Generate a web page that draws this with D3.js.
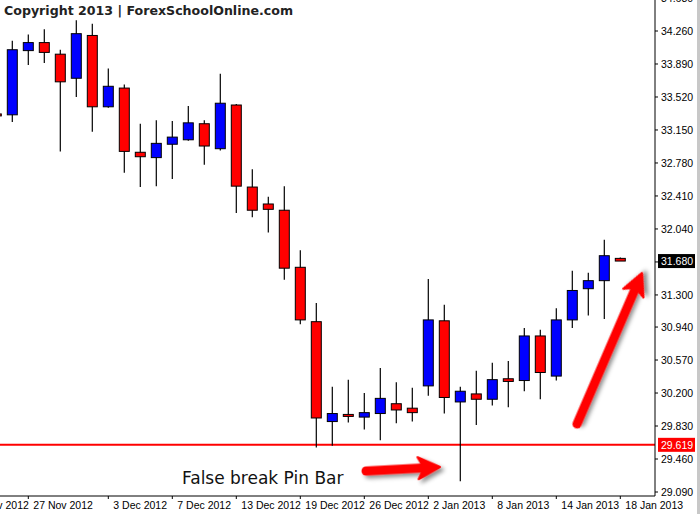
<!DOCTYPE html>
<html><head><meta charset="utf-8">
<script src="https://cdn.jsdelivr.net/npm/d3@7"></script>
<style>body{margin:0;background:#fff}svg{display:block}</style>
</head><body>
<script>
// candle index -1 .. 38, OHLC
const idx   = d3.range(-1, 39);
const opens = [33.33,33.32,34.04,34.13,34.00,33.73,34.21,33.41,33.62,32.90,32.84,32.99,33.04,33.22,32.94,33.43,32.51,32.32,32.25,31.61,31.00,29.88,29.96,29.93,29.97,30.08,30.03,30.28,31.01,30.10,30.19,30.13,30.36,30.34,30.84,30.39,31.02,31.37,31.46,31.71];
const highs = [33.34,34.15,34.22,34.28,34.05,34.38,34.34,33.84,33.66,33.22,33.26,33.25,33.42,33.26,33.78,33.44,32.71,32.40,32.52,31.80,31.21,30.27,30.35,30.20,30.48,30.32,30.26,31.48,31.19,30.27,30.45,30.54,30.56,30.93,30.91,31.15,31.57,31.55,31.92,31.72];
const lows  = [33.30,33.24,33.88,33.90,32.91,33.52,33.13,33.40,32.67,32.51,32.52,32.60,33.03,32.76,32.92,32.22,32.17,32.00,31.47,30.97,29.59,29.61,29.87,29.79,29.67,29.86,29.88,30.17,29.97,29.21,29.84,30.06,30.04,30.22,30.13,30.34,30.93,31.07,31.03,31.68];
const closes= [33.31,34.05,34.13,34.02,33.69,34.23,33.41,33.64,32.91,32.85,33.00,33.07,33.23,32.97,33.45,32.52,32.25,32.26,31.60,31.02,29.92,29.97,29.94,29.98,30.14,30.01,29.98,31.02,30.15,30.22,30.13,30.35,30.33,30.84,30.43,31.02,31.35,31.46,31.74,31.68];
const priceTicks = [34.63,34.26,33.89,33.52,33.15,32.78,32.41,32.04,31.67,31.30,30.94,30.57,30.20,29.83,29.46,29.09];
const dateTicks = [-3,1,6,10,14,18,22,26,30,34,38];
const dateLabels = ["21 Nov 2012","27 Nov 2012","3 Dec 2012","7 Dec 2012","13 Dec 2012","19 Dec 2012","26 Dec 2012","2 Jan 2013","8 Jan 2013","14 Jan 2013","18 Jan 2013"];
const lastPrice = 31.680, supportLevel = 29.619;

const W = 700, H = 514, axisX = 655, plotBottom = 496;
const x = d3.scaleLinear().domain([0, 38]).range([12.3, 620.3]);
const y = d3.scaleLinear().domain([29.09, 34.26]).range([492, 31]);

const svg = d3.select("body").append("svg").attr("width", W).attr("height", H)
  .style("font-family", "'Liberation Sans', Arial, sans-serif");

const defs = svg.append("defs");
const f = defs.append("filter").attr("id", "sh").attr("x", "-20%").attr("y", "-50%").attr("width", "150%").attr("height", "200%");
f.append("feDropShadow").attr("dx", 3).attr("dy", 3).attr("stdDeviation", 2).attr("flood-color", "#000").attr("flood-opacity", 0.45);

const plot = svg.append("g");
plot.append("clipPath").attr("id", "clip").append("rect").attr("width", axisX).attr("height", plotBottom);
const g = plot.append("g").attr("clip-path", "url(#clip)");

// support line
g.append("line").attr("x1", 0).attr("x2", axisX).attr("y1", y(supportLevel)).attr("y2", y(supportLevel))
  .attr("stroke", "#ff0000").attr("stroke-width", 2);

const candles = idx.map((i, k) => ({ i, o: opens[k], h: highs[k], l: lows[k], c: closes[k] }));
const cg = g.selectAll(".c").data(candles).enter().append("g");
cg.append("line").attr("x1", d => x(d.i)).attr("x2", d => x(d.i))
  .attr("y1", d => y(d.h)).attr("y2", d => y(d.l)).attr("stroke", "#000").attr("stroke-width", 1.2);
cg.append("rect").attr("x", d => x(d.i) - 5).attr("width", 10)
  .attr("y", d => y(Math.max(d.o, d.c)))
  .attr("height", d => Math.max(2, Math.abs(y(d.o) - y(d.c))))
  .attr("fill", d => d.c >= d.o ? "#0000ff" : "#ff0000")
  .attr("stroke", "#000").attr("stroke-width", 1);

// axes frame
svg.append("line").attr("x1", axisX).attr("x2", axisX).attr("y1", 0).attr("y2", plotBottom).attr("stroke", "#000");
svg.append("line").attr("x1", 0).attr("x2", axisX).attr("y1", plotBottom).attr("y2", plotBottom).attr("stroke", "#000");

const yt = svg.append("g").selectAll("g").data(priceTicks).enter().append("g");
yt.append("line").attr("x1", axisX).attr("x2", axisX + 3).attr("y1", d => y(d)).attr("y2", d => y(d)).attr("stroke", "#000");
yt.append("text").attr("x", 661).attr("y", d => y(d)).attr("dy", "0.35em").attr("font-size", 10.5)
  .text(d => d.toFixed(3));

const xt = svg.append("g").selectAll("g").data(dateTicks).enter().append("g");
xt.append("line").attr("x1", d => x(d)).attr("x2", d => x(d)).attr("y1", plotBottom).attr("y2", plotBottom + 3).attr("stroke", "#000");
xt.append("text").attr("x", d => x(d) + 5).attr("y", 509).attr("font-size", 10.5).text((d, k) => dateLabels[k]);

// price labels
[[lastPrice, "#000"], [supportLevel, "#ff0000"]].forEach(([p, col]) => {
  svg.append("rect").attr("x", 658).attr("y", y(p) - 7).attr("width", 37).attr("height", 14).attr("fill", col);
  svg.append("text").attr("x", 661).attr("y", y(p)).attr("dy", "0.35em").attr("font-size", 10.5)
    .attr("fill", "#fff").text(p.toFixed(3));
});

// scrollbar strip
svg.append("rect").attr("x", 697).attr("y", 0).attr("width", 3).attr("height", H).attr("fill", "#c8c8c8");

// title
svg.append("text").attr("x", 4).attr("y", 15).attr("font-size", 12.6).attr("font-weight", "bold")
  .attr("font-family", "'DejaVu Sans', sans-serif").attr("fill", "#222")
  .text("Copyright 2013 | ForexSchoolOnline.com");

// annotation
svg.append("text").attr("x", 182).attr("y", 484).attr("font-size", 17).attr("fill", "#111")
  .attr("font-family", "'DejaVu Sans', sans-serif").text("False break Pin Bar");

function arrow(x1, y1, x2, y2) {
  const a = Math.atan2(y2 - y1, x2 - x1), L = Math.hypot(x2 - x1, y2 - y1);
  const ag = svg.append("g").attr("filter", "url(#sh)")
    .attr("transform", `translate(${x1},${y1}) rotate(${a * 180 / Math.PI})`);
  ag.append("line").attr("x1", 0).attr("y1", 0).attr("x2", L - 14).attr("y2", 0)
    .attr("stroke", "#ff0000").attr("stroke-width", 9).attr("stroke-linecap", "round");
  ag.append("path").attr("d", `M${L},0 L${L - 22},-11 L${L - 16},0 L${L - 22},11 Z`)
    .attr("fill", "#ff0000").attr("stroke", "#ff0000").attr("stroke-linejoin", "round").attr("stroke-width", 2);
}
arrow(366, 471, 440, 467);
arrow(577, 424, 642, 273);
</script>
</body></html>
